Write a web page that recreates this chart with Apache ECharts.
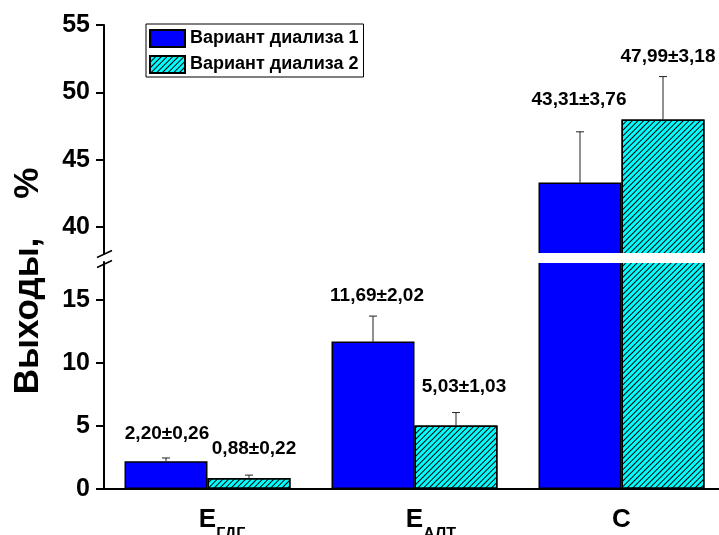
<!DOCTYPE html>
<html>
<head>
<meta charset="utf-8">
<script src="https://cdn.jsdelivr.net/npm/echarts@6/dist/echarts.min.js"></script>
<style>
  html, body { margin: 0; padding: 0; background: #fff; }
  #chart { width: 719px; height: 535px; }
</style>
</head>
<body>
<div id="chart"></div>
<script>
// categories: main letter + subscript
const catMain = ['Е', 'Е', 'С']
const catSub = ['ГДГ', 'АЛТ', '']
const categories = catMain.map((m, i) => m + catSub[i])

const seriesNames = ['Вариант диализа 1', 'Вариант диализа 2']
const values1 = [2.20, 11.69, 43.31]
const errors1 = [0.26, 2.02, 3.76]
const values2 = [0.88, 5.03, 47.99]
const errors2 = [0.22, 1.03, 3.18]

const lowerTicks = [0, 5, 10, 15]
const lowerMinor = [2.5, 7.5, 12.5]
const upperTicks = [40, 45, 50, 55]
const upperMinor = [42.5, 47.5, 52.5]

// axis break
const lowerMax = 18
const upperMin = 38
const upperMax = 55

// layout stuff
const barWidth = 83
const labelShift = [
  [[1, -24], [4, -20], [-1, -32]],
  [[5, -26], [8, -26], [5, -20]]
]
const FONT = 'Arial, "Liberation Sans", sans-serif'
const blue = '#0000ff'
const cyan = '#00ffff'

const hatch = {
  symbol: 'rect',
  symbolSize: 1,
  dashArrayX: [1, 0],
  dashArrayY: [1, 2.6],
  rotation: -Math.PI / 4,
  color: '#000'
}

const fmt = v => v.toFixed(2).replace('.', ',')

function errItems(inGrid) {
  const out = []
  ;[[values1, errors1], [values2, errors2]].forEach(([vals, errs], k) => {
    vals.forEach((v, i) => {
      if (inGrid(v, errs[i])) {
        out.push([i, v, errs[i], k, labelShift[k][i][0], labelShift[k][i][1]])
      }
    })
  })
  return out
}

function renderErr(params, api) {
  const cat = api.value(0), v = api.value(1), e = api.value(2), k = api.value(3)
  const base = api.coord([cat, v])
  const top = api.coord([cat, v + e])
  const x = base[0] + (k === 0 ? -1 : 1) * barWidth / 2
  return {
    type: 'group',
    children: [
      { type: 'line', shape: { x1: x, y1: base[1], x2: x, y2: top[1] }, style: { stroke: '#222', lineWidth: 1 } },
      { type: 'line', shape: { x1: x - 4, y1: top[1], x2: x + 4, y2: top[1] }, style: { stroke: '#222', lineWidth: 1 } },
      {
        type: 'text',
        x: x + api.value(4),
        y: top[1] + api.value(5),
        style: {
          text: fmt(v) + '±' + fmt(e),
          fill: '#000',
          font: 'bold 19px ' + FONT,
          align: 'center',
          verticalAlign: 'middle'
        }
      }
    ]
  }
}

const upperData = vals => vals.map(v => (v > upperMin ? v : '-'))

const chart = echarts.init(document.getElementById('chart'))

const yBase = {
  type: 'value',
  splitLine: { show: false },
  axisLine: { show: true, lineStyle: { color: '#000', width: 2 } },
  axisLabel: { color: '#000', fontSize: 25, fontWeight: 'bold', fontFamily: FONT, margin: 14 },
  axisTick: { show: true, length: 8, lineStyle: { color: '#000', width: 2 } }
}
const yMinor = {
  type: 'value',
  splitLine: { show: false },
  axisLine: { show: false },
  axisLabel: { show: false },
  axisTick: { show: true, length: 5, lineStyle: { color: '#000', width: 2 } }
}

const option = {
  animation: false,
  grid: [
    { left: 104, top: 25, width: 621, height: 229, outerBoundsMode: 'none' },
    { left: 104, top: 262, width: 621, height: 227, outerBoundsMode: 'none' }
  ],
  legend: {
    data: seriesNames,
    orient: 'vertical',
    left: 146,
    top: 24,
    icon: 'rect',
    itemWidth: 35,
    itemHeight: 17,
    itemGap: 7,
    padding: [5, 5, 3, 3],
    borderColor: '#000',
    borderWidth: 1,
    textStyle: { color: '#000', fontSize: 18, fontWeight: 'bold', fontFamily: FONT }
  },
  xAxis: [
    { type: 'category', gridIndex: 0, data: categories, show: false },
    {
      type: 'category',
      gridIndex: 1,
      data: categories,
      axisLine: { lineStyle: { color: '#000', width: 2 } },
      axisTick: { alignWithLabel: true, length: 8, lineStyle: { color: '#000', width: 2 } },
      axisLabel: {
        margin: 18,
        formatter: (val, idx) => catSub[idx]
          ? '{h|' + catSub[idx] + '}{m|' + catMain[idx] + '}{s|' + catSub[idx] + '}'
          : '{m|' + catMain[idx] + '}',
        rich: {
          m: { fontSize: 26, fontWeight: 'bold', fontFamily: FONT, color: '#000', lineHeight: 28, verticalAlign: 'top' },
          s: { fontSize: 16, fontWeight: 'bold', fontFamily: FONT, color: '#000', lineHeight: 36, verticalAlign: 'bottom' },
          h: { fontSize: 16, fontWeight: 'bold', fontFamily: FONT, color: 'transparent', lineHeight: 36, verticalAlign: 'bottom' }
        }
      }
    }
  ],
  yAxis: [
    Object.assign({}, yBase, {
      gridIndex: 0, min: upperMin, max: upperMax,
      axisLabel: Object.assign({}, yBase.axisLabel, { customValues: upperTicks }),
      axisTick: Object.assign({}, yBase.axisTick, { customValues: upperTicks })
    }),
    Object.assign({}, yMinor, {
      gridIndex: 0, min: upperMin, max: upperMax,
      axisTick: Object.assign({}, yMinor.axisTick, { customValues: upperMinor })
    }),
    Object.assign({}, yBase, {
      gridIndex: 1, min: 0, max: lowerMax,
      axisLabel: Object.assign({}, yBase.axisLabel, { customValues: lowerTicks }),
      axisTick: Object.assign({}, yBase.axisTick, { customValues: lowerTicks })
    }),
    Object.assign({}, yMinor, {
      gridIndex: 1, min: 0, max: lowerMax,
      axisTick: Object.assign({}, yMinor.axisTick, { customValues: lowerMinor })
    })
  ],
  series: [
    {
      name: seriesNames[0], type: 'bar', xAxisIndex: 1, yAxisIndex: 2,
      data: values1, barWidth: barWidth, barGap: '0%',
      itemStyle: { color: blue, borderColor: '#000', borderWidth: 1.5 }
    },
    {
      name: seriesNames[1], type: 'bar', xAxisIndex: 1, yAxisIndex: 2,
      data: values2, barWidth: barWidth, barGap: '0%',
      itemStyle: { color: cyan, borderColor: '#000', borderWidth: 1.5, decal: hatch }
    },
    {
      name: seriesNames[0], type: 'bar', xAxisIndex: 0, yAxisIndex: 0,
      data: upperData(values1), barWidth: barWidth, barGap: '0%',
      itemStyle: { color: blue, borderColor: '#000', borderWidth: 1.5 }
    },
    {
      name: seriesNames[1], type: 'bar', xAxisIndex: 0, yAxisIndex: 0,
      data: upperData(values2), barWidth: barWidth, barGap: '0%',
      itemStyle: { color: cyan, borderColor: '#000', borderWidth: 1.5, decal: hatch }
    },
    {
      type: 'custom', xAxisIndex: 1, yAxisIndex: 2, z: 5,
      renderItem: renderErr,
      data: errItems((v, e) => v + e < lowerMax)
    },
    {
      type: 'custom', xAxisIndex: 0, yAxisIndex: 0, z: 5,
      renderItem: renderErr,
      data: errItems((v, e) => v > upperMin)
    }
  ],
  graphic: [
    // gap across the bars at the axis break
    { type: 'rect', z: 100, shape: { x: 106, y: 253, width: 620, height: 10 }, style: { fill: '#fff' } },
    { type: 'line', z: 101, shape: { x1: 97, y1: 257.5, x2: 112, y2: 250.5 }, style: { stroke: '#000', lineWidth: 1.5 } },
    { type: 'line', z: 101, shape: { x1: 97, y1: 267.5, x2: 112, y2: 260.5 }, style: { stroke: '#000', lineWidth: 1.5 } },
    {
      type: 'text', z: 101, x: 28, y: 281, rotation: Math.PI / 2,
      style: {
        text: 'Выходы,    %',
        fill: '#000',
        font: 'bold 35px ' + FONT,
        align: 'center',
        verticalAlign: 'middle'
      }
    }
  ]
}

chart.setOption(option)
</script>
</body>
</html>
